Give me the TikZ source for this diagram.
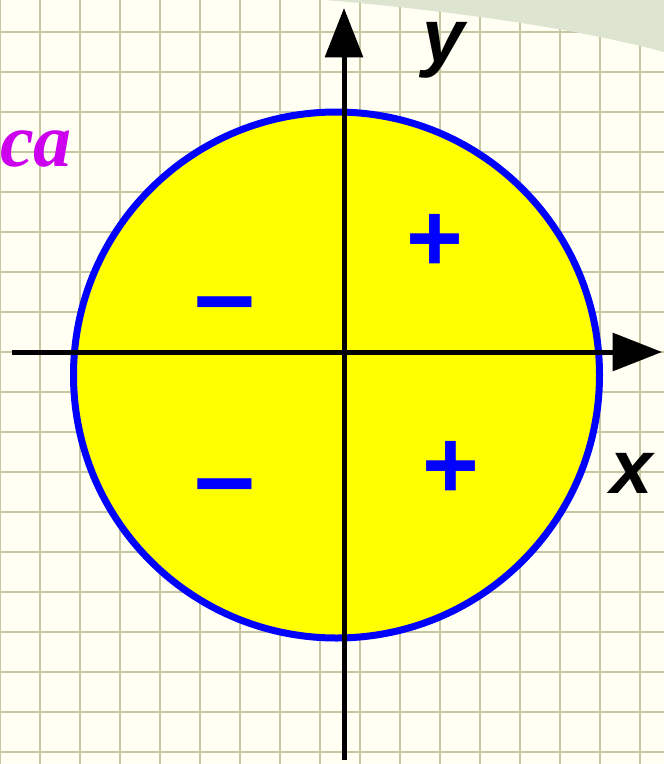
\documentclass[tikz,border=0pt]{standalone}
\usepackage{fontspec}
\setmainfont{Liberation Sans}
\newfontfamily\serifx{Liberation Serif}
\usetikzlibrary{arrows.meta}
\definecolor{paper}{HTML}{FFFFF4}
\definecolor{gridx}{HTML}{C6C6A0}
\definecolor{leaf}{HTML}{DDE4D0}
\definecolor{sunx}{HTML}{FFFF00}
\definecolor{bluex}{HTML}{0000FF}
\definecolor{violx}{HTML}{CC00EE}
\tikzset{
  ax/.style={-{Triangle[length=37pt,width=28pt]},line width=3.75pt,black},
  sgn/.style={text=bluex,font=\fontsize{73}{73}\selectfont\bfseries,inner sep=0pt,anchor=base},
  lbl/.style={font=\fontsize{57}{57}\selectfont\bfseries\itshape,inner sep=0pt,anchor=base,text height=0.55em,text depth=0.2em}
}

\begin{document}
\begin{tikzpicture}[x=0.75pt,y=-0.75pt]
\useasboundingbox (0,0) rectangle (664,764);
\fill[paper] (0,0) rectangle (664,764);
% squared paper
\foreach \gx in {0,40,...,640}{\draw[gridx,line width=1.2pt] (\gx,0)--(\gx,764);}
\foreach \gy in {32,72,...,752}{\draw[gridx,line width=1.2pt] (0,\gy)--(664,\gy);}
\fill[leaf] (325,0) .. controls (420,8) and (560,24) .. (664,52) -- (664,0) -- cycle;
% circle
\filldraw[fill=sunx,draw=bluex,line width=5.25pt] (336.5,375) circle[radius=197.25pt];
% axes
\coordinate (xs) at (12,352);
\coordinate (xe) at (662,352);
\coordinate (ys) at (344,760);
\coordinate (ye) at (344,8);
\draw[ax] (xs)--(xe);
\draw[ax] (ys)--(ye);
\node[lbl] (xl) at (632,493) {x};
\node[lbl] (yl) at (444,62) {y};
% signs
\node[sgn] (p1) at (435,271) {+};
\node[sgn] (p2) at (451,498) {+};
\node[sgn,font=\fontsize{82}{82}\selectfont\bfseries] (m1) at (225,331) {–};
\node[sgn,font=\fontsize{82}{82}\selectfont\bfseries] (m2) at (225,513) {–};
\node[font=\serifx\fontsize{57}{57}\selectfont\bfseries\itshape,text=violx,inner sep=0pt,anchor=base east] (ca) at (72,166) {ca};
\end{tikzpicture}
\end{document}
